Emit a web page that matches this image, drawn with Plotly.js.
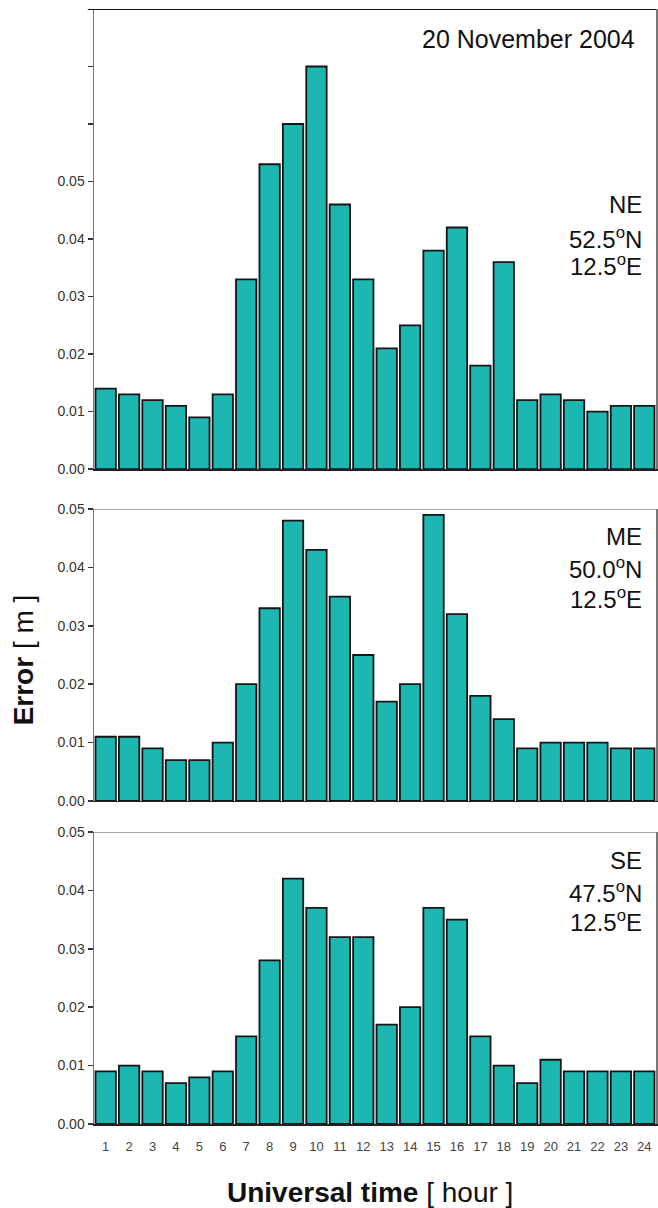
<!DOCTYPE html>
<html>
<head>
<meta charset="utf-8">
<script src="https://cdn.plot.ly/plotly-3.0.1.min.js"></script>
<style>html,body{margin:0;padding:0;background:#fff;}#chart{width:658px;height:1208px;}</style>
</head>
<body>
<div id="chart"></div>
<script>
const hours = [1,2,3,4,5,6,7,8,9,10,11,12,13,14,15,16,17,18,19,20,21,22,23,24];
const hourLabels = hours.map(String);
const errNE = [0.014,0.013,0.012,0.011,0.009,0.013,0.033,0.053,0.060,0.070,0.046,0.033,0.021,0.025,0.038,0.042,0.018,0.036,0.012,0.013,0.012,0.010,0.011,0.011];
const errME = [0.011,0.011,0.009,0.007,0.007,0.010,0.020,0.033,0.048,0.043,0.035,0.025,0.017,0.020,0.049,0.032,0.018,0.014,0.009,0.010,0.010,0.010,0.009,0.009];
const errSE = [0.009,0.010,0.009,0.007,0.008,0.009,0.015,0.028,0.042,0.037,0.032,0.032,0.017,0.020,0.037,0.035,0.015,0.010,0.007,0.011,0.009,0.009,0.009,0.009];
const topTickVals = [0,0.01,0.02,0.03,0.04,0.05,0.06,0.07];
const topTickText = ['0.00','0.01','0.02','0.03','0.04','0.05','',''];
const lowTickVals = [0,0.01,0.02,0.03,0.04,0.05];
const lowTickText = ['0.00','0.01','0.02','0.03','0.04','0.05'];
const dateLabel = '20 November 2004';
const stations = [
  ['NE','52.5<sup>o</sup>N','12.5<sup>o</sup>E'],
  ['ME','50.0<sup>o</sup>N','12.5<sup>o</sup>E'],
  ['SE','47.5<sup>o</sup>N','12.5<sup>o</sup>E']
];

const barColor = '#1DB7B2';
const font = 'Liberation Sans, Arial, sans-serif';
function barTrace(y, xa, ya){
  return {type:'bar', x:hours, y:y, xaxis:xa, yaxis:ya,
    marker:{color:barColor, line:{color:'#151515', width:1.8}},
    hoverinfo:'x+y', showlegend:false};
}
const data = [barTrace(errNE,'x','y'), barTrace(errME,'x2','y2'), barTrace(errSE,'x3','y3')];

function xax(anchor, showLabels){
  return {anchor:anchor, domain:[0,1], range:[0.5,24.5], tickmode:'array', tickvals:hours, ticktext:hourLabels,
    showticklabels:showLabels, ticks:'', ticklabelstandoff:10, showgrid:false, zeroline:false, showline:true, linecolor:'#222', linewidth:1.5,
    tickfont:{family:font, size:13, color:'#444'}, fixedrange:true};
}
function yax(anchor, domain, range, tv, tt, lc){
  return {anchor:anchor, domain:domain, range:range, tickmode:'array', tickvals:tv, ticktext:tt,
    ticks:'outside', ticklen:5, tickwidth:1.5, tickcolor:'#333', showgrid:false, zeroline:false,
    showline:true, linecolor:lc, linewidth:1.5, mirror:true,
    tickfont:{family:font, size:14, color:'#333'}, fixedrange:true};
}
const d1=[0.5874,1], d2=[0.2897,0.5516], d3=[0,0.2619];
const ann = [];
ann.push({xref:'paper', yref:'y', x:0.967, y:0.0747, text:dateLabel, showarrow:false, xanchor:'right', yanchor:'middle', font:{family:font, size:25, color:'#111'}});
const stationY = [['y',[0.0460,0.0402,0.0354]], ['y2',[0.0452,0.0399,0.0348]], ['y3',[0.0451,0.0398,0.0348]]];
for(let s=0;s<3;s++){
  for(let l=0;l<3;l++){
    ann.push({xref:'paper', yref:stationY[s][0], x:0.978, y:stationY[s][1][l], text:stations[s][l], showarrow:false, xanchor:'right', yanchor:'middle', font:{family:font, size:24, color:'#111'}});
  }
}
ann.push({xref:'paper', yref:'paper', x:-0.126, y:0.416, text:'<b>Error</b> [ m ]', textangle:-90, showarrow:false, xanchor:'center', yanchor:'middle', font:{family:font, size:28, color:'#111'}});
ann.push({xref:'paper', yref:'paper', x:0.491, y:-0.061, text:'<b>Universal time</b> [ hour ]', showarrow:false, xanchor:'center', yanchor:'middle', font:{family:font, size:28, color:'#111'}});

const layout = {
  width:658, height:1208, margin:{l:94, r:2, t:9, b:84}, paper_bgcolor:'#fff', plot_bgcolor:'#fff',
  bargap:0.13, showlegend:false,
  xaxis:xax('y', false), xaxis2:xax('y2', false), xaxis3:xax('y3', true),
  yaxis:yax('x', d1, [0,0.08], topTickVals, topTickText, '#777'),
  yaxis2:yax('x2', d2, [0,0.05], lowTickVals, lowTickText, '#777'),
  yaxis3:yax('x3', d3, [0,0.05], lowTickVals, lowTickText, '#777'),
  annotations:ann,
  shapes:[
    {type:'line', xref:'paper', yref:'y', x0:-0.011, x1:1, y0:0.08, y1:0.08, line:{color:'#111', width:2}},
    {type:'line', xref:'paper', yref:'y2', x0:0, x1:1, y0:0.05, y1:0.05, line:{color:'#888', width:1.5}},
    {type:'line', xref:'paper', yref:'y3', x0:0, x1:1, y0:0.05, y1:0.05, line:{color:'#888', width:1.5}}
  ]
};
Plotly.newPlot('chart', data, layout, {displayModeBar:false, staticPlot:true});
</script>
</body>
</html>
